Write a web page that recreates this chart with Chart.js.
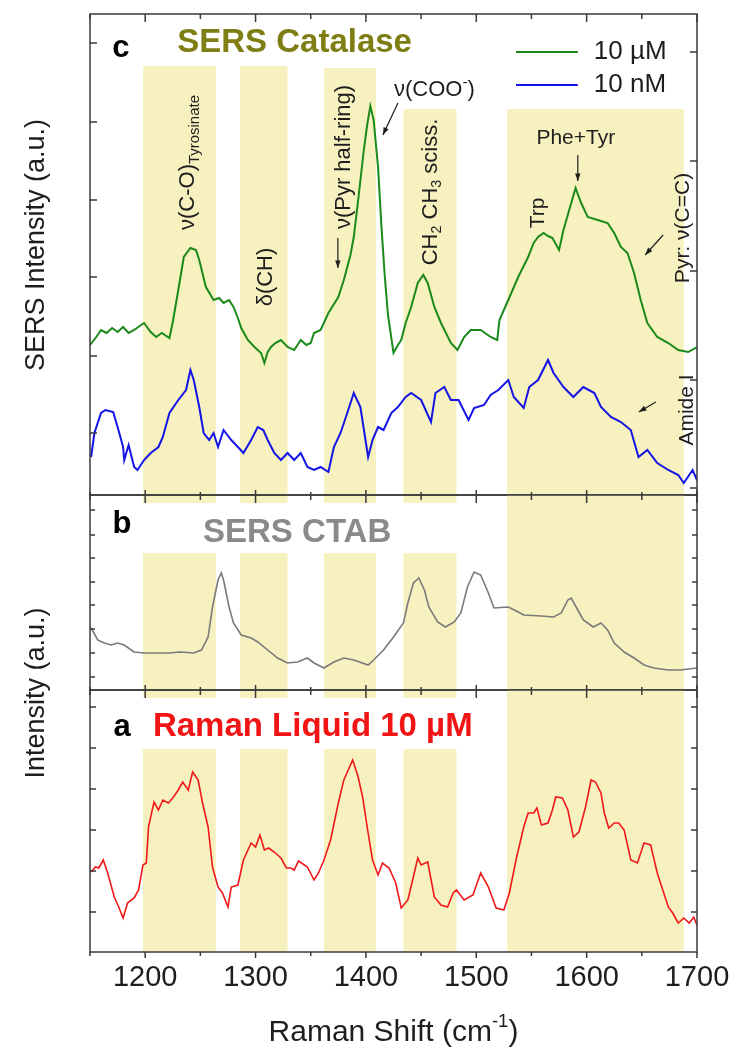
<!DOCTYPE html>
<html>
<head>
<meta charset="utf-8">
<script src="https://cdn.jsdelivr.net/npm/chart.js@4/dist/chart.umd.min.js"></script>
<style>
  body { margin: 0; background: #fff; }
  #wrap { position: relative; width: 743px; height: 1063px; }
  #wrap canvas { position: absolute; left: 0; top: 0; }
</style>
</head>
<body>
<div id="wrap">
  <canvas id="panelC" width="743" height="1063"></canvas>
  <canvas id="panelB" width="743" height="1063"></canvas>
  <canvas id="panelA" width="743" height="1063"></canvas>
</div>
<script>
// Raman shift axis (cm-1)
const xMin = 1150, xMax = 1700;
const xMajor = [1200, 1300, 1400, 1500, 1600, 1700];
const xMinor = [1150, 1250, 1350, 1450, 1550, 1650];

// shaded assignment bands (cm-1)
const bandFrom = [1198, 1286, 1362, 1434, 1528];
const bandTo = [1264, 1329, 1409, 1482, 1688];
const cBandTop = [42.9, 42.9, 42.7, 38.6, 38.6];
const bBandTop = [13.7, 13.7, 13.7, 13.7, 19.5];
const aBandTop = [20.3, 20.3, 20.3, 20.3, 26.2];

// panel c: SERS catalase, 10 uM
const greenX = [1150,1155,1160,1165,1170,1175,1180,1185,1190,1195,1199,1205,1210,1215,1222,1225,1230,1235,1241,1246,1249,1255,1262,1267,1271,1276,1280,1284,1287,1293,1299,1305,1308,1311,1314,1318,1323,1329,1335,1341,1346,1350,1353,1359,1366,1375,1380,1386,1389,1393,1398,1401,1404,1407,1411,1414,1417,1420,1425,1429,1432,1436,1441,1447,1452,1456,1462,1468,1477,1483,1489,1495,1504,1513,1519,1521,1529,1538,1547,1552,1556,1561,1565,1569,1575,1579,1585,1590,1595,1601,1610,1619,1625,1631,1637,1643,1649,1655,1664,1674,1683,1692,1700];
const greenY = [15.0,15.7,16.5,16.2,16.7,16.3,16.8,16.2,16.5,16.9,17.2,16.3,15.8,16.2,15.7,17.3,20.5,23.8,24.7,24.5,23.5,20.8,19.5,19.7,19.2,19.5,18.8,17.7,16.7,15.5,14.8,14.2,13.2,14.3,14.8,15.2,15.5,14.8,14.5,15.5,15.0,15.2,16.2,16.5,18.2,19.8,21.5,24.0,25.8,29.5,34.4,36.9,38.9,37.5,32.8,27.0,22.0,18.0,14.2,15.0,15.5,17.2,18.8,21.2,22.0,21.2,18.8,17.2,15.2,14.5,15.8,16.5,16.5,15.8,15.5,17.5,19.5,21.8,23.8,25.2,25.8,26.2,25.9,25.7,24.5,26.5,28.8,30.7,29.2,27.8,27.5,27.2,26.2,24.8,24.2,22.2,19.5,17.2,15.8,15.2,14.5,14.3,14.8];

// panel c: SERS catalase, 10 nM
const blueX = [1151,1154,1160,1164,1171,1175,1180,1181,1185,1190,1193,1199,1205,1212,1216,1222,1230,1237,1241,1244,1249,1253,1258,1262,1266,1271,1278,1284,1289,1296,1302,1307,1311,1317,1323,1329,1335,1341,1347,1353,1359,1366,1371,1377,1384,1389,1395,1402,1406,1411,1416,1423,1429,1436,1441,1450,1459,1463,1471,1477,1484,1493,1498,1507,1513,1520,1529,1534,1543,1548,1556,1565,1570,1579,1588,1597,1607,1613,1622,1631,1640,1647,1655,1664,1674,1683,1688,1696,1700];
const blueY = [3.8,6.2,8.2,8.5,8.3,6.8,4.8,3.5,5.0,2.8,2.5,3.5,4.2,4.8,5.8,8.2,9.5,10.5,12.5,11.5,8.8,6.2,5.5,6.2,4.8,6.5,5.5,4.8,4.2,5.5,6.8,6.5,5.5,4.2,3.5,4.2,3.5,4.2,2.8,2.5,2.8,2.3,4.8,6.2,8.5,10.2,8.8,3.8,5.5,6.8,6.5,8.2,8.8,9.8,10.2,9.5,7.3,10.2,10.8,9.5,9.5,7.5,8.7,9.0,10.0,10.5,11.5,9.8,8.7,10.8,11.5,13.5,12.2,10.8,9.8,10.8,10.2,8.8,7.8,7.3,6.5,3.8,4.5,3.2,2.5,2.0,1.2,2.5,1.5];

// panel b: SERS CTAB
const grayX = [1151,1157,1163,1169,1175,1181,1190,1199,1212,1221,1232,1244,1251,1257,1261,1266,1269,1271,1276,1280,1287,1296,1302,1311,1320,1329,1338,1347,1353,1362,1371,1380,1389,1402,1407,1416,1425,1434,1438,1443,1448,1453,1457,1465,1472,1480,1486,1492,1498,1504,1511,1516,1529,1538,1543,1559,1570,1577,1583,1586,1592,1597,1606,1613,1619,1625,1634,1643,1652,1661,1674,1685,1700];
const grayY = [6.2,5.0,4.7,4.5,4.7,4.5,3.8,3.7,3.7,3.7,3.8,3.7,4.0,5.3,8.3,11.0,11.7,11.0,8.3,6.7,5.5,5.2,4.8,4.0,3.2,2.7,2.8,3.2,2.7,2.2,2.8,3.2,3.0,2.5,3.0,4.0,5.3,6.7,8.7,10.7,11.2,10.0,8.3,6.8,6.3,6.8,7.7,10.3,11.8,11.5,9.7,8.2,8.3,7.8,7.5,7.4,7.3,7.7,9.0,9.2,8.0,7.0,6.3,6.7,6.0,4.7,3.8,3.2,2.5,2.2,2.0,2.0,2.2];

// panel a: Raman liquid 10 uM
const redX = [1151,1155,1158,1162,1166,1172,1176,1180,1184,1190,1194,1198,1201,1203,1208,1212,1216,1221,1225,1230,1234,1239,1243,1248,1252,1257,1261,1266,1270,1275,1278,1284,1289,1296,1300,1304,1308,1312,1318,1323,1328,1332,1335,1339,1347,1353,1357,1362,1368,1375,1380,1388,1393,1397,1402,1406,1411,1415,1421,1427,1432,1438,1443,1447,1450,1456,1462,1468,1474,1479,1482,1489,1497,1504,1511,1518,1525,1530,1536,1543,1547,1552,1555,1559,1565,1569,1572,1578,1583,1588,1593,1599,1604,1608,1613,1616,1620,1625,1629,1634,1640,1646,1652,1658,1664,1674,1678,1683,1688,1693,1697,1700];
const redY = [8.0,8.5,8.4,9.2,7.9,5.5,4.5,3.4,4.9,5.4,6.2,8.7,8.9,12.5,15.0,14.2,15.2,14.9,15.4,16.2,17.0,16.2,18.0,17.2,14.9,12.5,8.5,6.5,5.9,4.5,6.5,6.7,9.2,10.9,10.5,11.7,10.2,10.4,9.9,9.4,8.4,8.4,8.2,9.1,8.5,7.2,7.9,9.2,11.2,14.9,17.2,19.2,17.5,15.5,11.9,9.2,7.7,8.9,8.4,6.9,4.4,5.2,7.5,9.4,8.7,9.0,5.5,4.7,4.5,5.9,6.2,5.2,5.7,7.9,6.5,4.4,4.2,5.9,9.2,12.5,13.9,13.9,14.4,12.7,12.9,14.2,15.5,15.4,14.2,11.5,12.0,14.5,17.2,17.0,15.9,13.9,12.4,12.9,12.9,12.2,9.2,8.9,10.9,10.7,7.9,4.5,3.9,2.9,3.4,2.9,3.5,2.7];

// unlabeled y tick positions (a.u.)
const cTicksLeft = [6.2, 13.9, 21.8, 29.5, 37.3, 45.2];
const cTicksRight = [0.7, 11.5, 22.4, 33.4, 44.3];
const bTicks = [1.3, 3.7, 6.1, 8.5, 10.8, 13.2, 15.5, 18.0];
const aTicks = [4.0, 8.1, 12.2, 16.3, 20.4, 24.5];

const family = '"Liberation Sans", Arial, Helvetica, sans-serif';
const axisColor = '#3a3a3a';
const textColor = '#1e1e1e';
const bandColor = '#f6f1bf';

function drawText(ctx, parts, px, py, opt) {
    ctx.save();
    ctx.translate(px, py);
    if (opt.rotate) ctx.rotate(-Math.PI / 2);
    ctx.fillStyle = opt.color || textColor;
    ctx.textBaseline = 'middle';
    ctx.textAlign = 'left';
    const fontOf = s => `${opt.bold ? 'bold ' : ''}${s}px ${family}`;
    const segs = parts.map(p => typeof p === 'string'
        ? { t: p, s: opt.size, dy: 0 }
        : { t: p[0], s: opt.size * p[1], dy: opt.size * p[2] });
    let w = 0;
    segs.forEach(g => { ctx.font = fontOf(g.s); g.w = ctx.measureText(g.t).width; w += g.w; });
    let cx = opt.align === 'center' ? -w / 2 : 0;
    segs.forEach(g => { ctx.font = fontOf(g.s); ctx.fillText(g.t, cx, g.dy); cx += g.w; });
    ctx.restore();
}

function arrow(ctx, x1, y1, x2, y2) {
    const ang = Math.atan2(y2 - y1, x2 - x1), h = 8;
    ctx.save();
    ctx.strokeStyle = textColor;
    ctx.fillStyle = textColor;
    ctx.lineWidth = 1.2;
    ctx.beginPath(); ctx.moveTo(x1, y1); ctx.lineTo(x2, y2); ctx.stroke();
    ctx.beginPath();
    ctx.moveTo(x2, y2);
    ctx.lineTo(x2 - h * Math.cos(ang - 0.35), y2 - h * Math.sin(ang - 0.35));
    ctx.lineTo(x2 - h * Math.cos(ang + 0.35), y2 - h * Math.sin(ang + 0.35));
    ctx.closePath(); ctx.fill();
    ctx.restore();
}

function panelPlugin(cfg) {
    return {
        id: 'panel' + cfg.name,
        beforeDatasetsDraw(chart) {
            const { ctx, scales: { x, y } } = chart;
            ctx.save();
            ctx.fillStyle = bandColor;
            bandFrom.forEach((f, i) => {
                const l = x.getPixelForValue(f), r = x.getPixelForValue(bandTo[i]);
                const t = y.getPixelForValue(cfg.bandTop[i]), b = y.getPixelForValue(cfg.bandBottom);
                ctx.fillRect(l, t, r - l, b - t);
            });
            ctx.restore();
        },
        afterDatasetsDraw(chart) {
            const { ctx, chartArea: a, scales: { x, y } } = chart;
            ctx.save();
            ctx.strokeStyle = axisColor;
            ctx.lineWidth = 1.5;
            ctx.strokeRect(a.left, a.top, a.right - a.left, a.bottom - a.top);
            ctx.beginPath();
            const xt = (list, top, bottom) => list.forEach(v => {
                const px = x.getPixelForValue(v);
                ctx.moveTo(px, a.top); ctx.lineTo(px, a.top + top);
                ctx.moveTo(px, a.bottom); ctx.lineTo(px, a.bottom + bottom);
            });
            xt(xMajor, cfg.xTop[0], cfg.xBottom[0]);
            xt(xMinor, cfg.xTop[1], cfg.xBottom[1]);
            cfg.ticksLeft.forEach(v => {
                const py = y.getPixelForValue(v);
                ctx.moveTo(a.left, py); ctx.lineTo(a.left + cfg.yTick, py);
            });
            cfg.ticksRight.forEach(v => {
                const py = y.getPixelForValue(v);
                ctx.moveTo(a.right, py); ctx.lineTo(a.right - cfg.yTick, py);
            });
            ctx.stroke();
            ctx.restore();
        },
        afterDraw(chart) {
            if (cfg.decorate) cfg.decorate(chart);
        }
    };
}

function makePanel(id, cfg) {
    const ctx = document.getElementById(id).getContext('2d');
    return new Chart(ctx, {
        type: 'line',
        data: {
            datasets: cfg.series.map(s => ({
                data: s.x.map((v, i) => ({ x: v, y: s.y[i] })),
                borderColor: s.color,
                borderWidth: s.width,
                pointRadius: 0,
                tension: 0,
                fill: false
            }))
        },
        options: {
            responsive: false,
            animation: false,
            devicePixelRatio: 1,
            layout: { padding: cfg.padding },
            plugins: { legend: { display: false }, tooltip: { enabled: false } },
            scales: {
                x: cfg.xAxis || { type: 'linear', min: xMin, max: xMax, display: false },
                y: { type: 'linear', min: 0, max: cfg.yMax, display: false }
            }
        },
        plugins: [panelPlugin(cfg)]
    });
}

function decorateC(chart) {
    const { ctx, scales: { x, y }, chartArea: a } = chart;
    const P = (cx, cy) => [x.getPixelForValue(cx), y.getPixelForValue(cy)];
    const txt = (parts, cx, cy, opt) => { const p = P(cx, cy); drawText(ctx, parts, p[0], p[1], opt); };
    const arr = (x1, y1, x2, y2) => { const p = P(x1, y1), q = P(x2, y2); arrow(ctx, p[0], p[1], q[0], q[1]); };

    txt(['c'], 1178, 44.7, { size: 31, bold: true, align: 'center', color: '#000' });
    txt(['SERS Catalase'], 1229, 45.2, { size: 33, bold: true, color: '#7e7e14' });

    // legend
    [[greenColor, 44.3, '10 \u00b5M'], [blueColor, 41.0, '10 nM']].forEach(([c, v, t]) => {
        const p = P(1536, v), q = P(1592, v);
        ctx.save();
        ctx.strokeStyle = c; ctx.lineWidth = 2;
        ctx.beginPath(); ctx.moveTo(p[0], p[1]); ctx.lineTo(q[0], q[1]); ctx.stroke();
        ctx.restore();
        txt([t], 1606.5, v, { size: 26 });
    });

    txt(['\u03bd(C-O)', ['Tyrosinate', 0.68, 0.3]], 1238.8, 26.5, { size: 22, rotate: true });
    txt(['\u03b4(CH)'], 1309.4, 21.8, { size: 22, rotate: true, align: 'center' });
    txt(['\u03bd(Pyr half-ring)'], 1380.1, 33.8, { size: 22, rotate: true, align: 'center' });
    arr(1374.6, 25.7, 1374.6, 22.7);
    txt(['\u03bd(COO', ['-', 0.7, -0.35], ')'], 1425.4, 40.5, { size: 22 });
    arr(1429, 39.2, 1415.4, 36.0);
    txt(['CH', ['2', 0.65, 0.3], ' CH', ['3', 0.65, 0.3], ' sciss.'], 1458.9, 30.3, { size: 22, rotate: true, align: 'center' });
    txt(['Trp'], 1555.8, 28.2, { size: 21, rotate: true, align: 'center' });
    txt(['Phe+Tyr'], 1590.2, 35.7, { size: 21, align: 'center' });
    arr(1592, 34.0, 1592, 31.4);
    txt(['Pyr: \u03bd(C=C)'], 1687.4, 26.7, { size: 21, rotate: true, align: 'center' });
    arr(1669.3, 26.0, 1653, 24.0);
    txt(['Amide I'], 1691, 8.5, { size: 21, rotate: true, align: 'center' });
    arr(1662.7, 9.3, 1647.3, 8.3);

    // y axis titles
    drawText(ctx, ['SERS Intensity (a.u.)'], a.left - 53, 245, { size: 27, rotate: true, align: 'center' });
    drawText(ctx, ['Intensity (a.u.)'], a.left - 53, 693, { size: 27, rotate: true, align: 'center' });
}

function decorateB(chart) {
    const { ctx, scales: { x, y } } = chart;
    drawText(ctx, ['b'], x.getPixelForValue(1179), y.getPixelForValue(16.6), { size: 31, bold: true, align: 'center', color: '#000' });
    drawText(ctx, ['SERS CTAB'], x.getPixelForValue(1252.4), y.getPixelForValue(15.7), { size: 33, bold: true, color: '#8a8a8a' });
}

function decorateA(chart) {
    const { ctx, scales: { x, y }, chartArea: a } = chart;
    drawText(ctx, ['a'], x.getPixelForValue(1179), y.getPixelForValue(22.5), { size: 31, bold: true, align: 'center', color: '#000' });
    drawText(ctx, ['Raman Liquid 10 \u00b5M'], x.getPixelForValue(1207), y.getPixelForValue(22.5), { size: 33, bold: true, color: '#f01414' });
    drawText(ctx, ['Raman Shift (cm', ['-1', 0.62, -0.38], ')'], (a.left + a.right) / 2, a.bottom + 81, { size: 30, align: 'center' });
}

const greenColor = '#1b8a1b';
const blueColor = '#1414e6';

makePanel('panelC', {
    name: 'C',
    padding: { top: 14, bottom: 568, left: 90, right: 46 },
    yMax: 48.1,
    series: [
        { x: greenX, y: greenY, color: greenColor, width: 2 },
        { x: blueX, y: blueY, color: blueColor, width: 2 }
    ],
    bandTop: cBandTop, bandBottom: -0.8,
    ticksLeft: cTicksLeft, ticksRight: cTicksRight, yTick: 7,
    xTop: [8, 5], xBottom: [-5, -3],
    decorate: decorateC
});

makePanel('panelB', {
    name: 'B',
    padding: { top: 495, bottom: 373, left: 90, right: 46 },
    yMax: 19.5,
    series: [{ x: grayX, y: grayY, color: '#7a7a7a', width: 1.6 }],
    bandTop: bBandTop, bandBottom: -0.8,
    ticksLeft: bTicks, ticksRight: bTicks, yTick: 5,
    xTop: [8, 5], xBottom: [-5, -3],
    decorate: decorateB
});

makePanel('panelA', {
    name: 'A',
    padding: { top: 690, bottom: 0, left: 90, right: 46 },
    yMax: 26.2,
    series: [{ x: redX, y: redY, color: '#f01818', width: 1.6 }],
    bandTop: aBandTop, bandBottom: 0,
    ticksLeft: aTicks, ticksRight: aTicks, yTick: 6,
    xTop: [8, 5], xBottom: [6, 4],
    xAxis: {
        type: 'linear', min: xMin, max: xMax,
        afterBuildTicks: s => { s.ticks = xMajor.map(v => ({ value: v })); },
        afterFit: s => { s.height = 111; },
        grid: { display: false, drawTicks: false },
        border: { display: false },
        ticks: {
            autoSkip: false, maxRotation: 0, padding: 9,
            color: textColor,
            font: { family: family, size: 29 },
            callback: v => String(v)
        }
    },
    decorate: decorateA
});
</script>
</body>
</html>
